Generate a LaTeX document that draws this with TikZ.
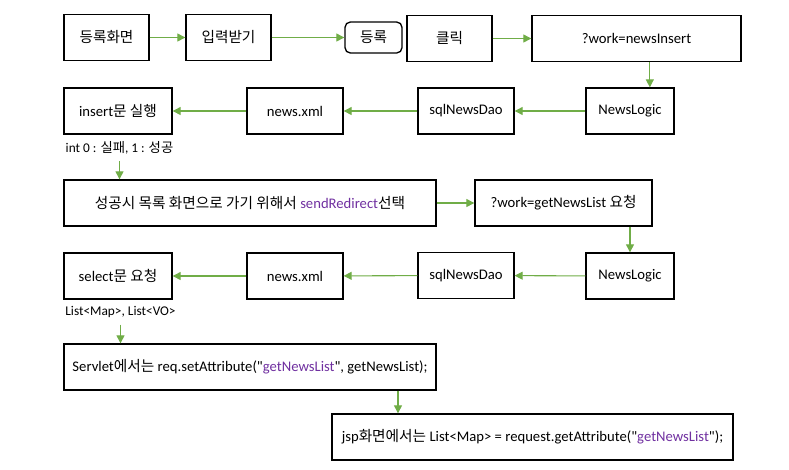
\documentclass[tikz,border=0pt]{standalone}
\usepackage{fontspec}
\setmainfont{Carlito}[Ligatures=TeXOff]
\newfontfamily\krfont{Noto Sans CJK KR}
\newcommand{\kr}[1]{{\krfont #1}}
\usetikzlibrary{arrows.meta}
\definecolor{flowgreen}{HTML}{70AD47}
\definecolor{keypurple}{HTML}{7030A0}
\tikzset{
  box/.style={draw, black, line width=1pt, minimum height=34.5pt, inner sep=0pt, font=\fontsize{11}{13}\selectfont},
  flow/.style={-{Triangle[length=6pt,width=6pt]}, flowgreen, line width=0.8pt},
  note/.style={inner sep=0pt, font=\fontsize{10}{12}\selectfont}
}
\begin{document}
\begin{tikzpicture}[x=0.75pt,y=-0.75pt]
            \useasboundingbox (0,0) rectangle (789,469);

            % Draw the first row
            \node[box, minimum width=63.75pt] (screen) at (106.5,37.5) {\kr{등록화면}};
            \node[box, minimum width=63.75pt] (input) at (228.5,37.5) {\kr{입력받기}};
            \node[box, minimum width=42.75pt, minimum height=23.25pt, rounded corners=4pt] (regbtn) at (373.5,37.5) {\kr{등록}};
            \node[box, minimum width=63.75pt] (click) at (449.5,38.5) {\kr{클릭}};
            \node[box, minimum width=156.75pt] (insreq) at (636.5,38.5) {?work=newsInsert};

            % Draw the insert chain
            \node[box, minimum width=81pt] (insert) at (118,111) {insert\kr{문 실행}};
            \node[box, minimum width=72pt] (xmlA) at (295,111) {news.xml};
            \node[box, minimum width=72pt] (daoA) at (466,111) {sqlNewsDao};
            \node[box, minimum width=66pt] (logicA) at (630,111) {NewsLogic};
            \node[note] (insres) at (119.5,148) {int 0 : \kr{실패}, 1 : \kr{성공}};

            % Draw the redirect row
            \node[box, minimum width=279pt] (redirect) at (250,203) {\kr{성공시 목록 화면으로 가기 위해서} \textcolor{keypurple}{sendRedirect}\kr{선택}};
            \node[box, minimum width=132.75pt] (listreq) at (563.5,203) {?work=getNewsList \kr{요청}};

            % Draw the select chain
            \node[box, minimum width=81pt] (select) at (118,276) {select\kr{문 요청}};
            \node[box, minimum width=72pt] (xmlB) at (295,276) {news.xml};
            \node[box, minimum width=72pt] (daoB) at (466,275.5) {sqlNewsDao};
            \node[box, minimum width=66pt] (logicB) at (630,276) {NewsLogic};
            \node[note] (selres) at (120.5,312) {List<Map>, List<VO>};

            % Draw the result rows
            \node[box, minimum width=279pt] (servlet) at (250,367) {Servlet\kr{에서는} req.setAttribute("\textcolor{keypurple}{getNewsList}", getNewsList);};
            \node[box, minimum width=300.75pt] (jsp) at (532.5,437) {jsp\kr{화면에서는} List<Map> = request.getAttribute("\textcolor{keypurple}{getNewsList}");};

            % Draw the arrows
            \draw[flow] (screen) -- (input);
            \draw[flow] (input) -- (regbtn);
            \draw[flow] (click) -- (insreq);
            \draw[flow] ([xshift=10pt]insreq.south) -- ([xshift=10pt]insreq.south |- logicA.north);
            \draw[flow] (logicA) -- (daoA);
            \draw[flow] (daoA) -- (xmlA);
            \draw[flow] (xmlA) -- (insert);
            \draw[flow] ([yshift=-5pt]insres.south) -- (redirect.north -| insres.south);
            \draw[flow] (redirect) -- (listreq);
            \draw[flow] (listreq.south -| logicB.north) -- (logicB.north);
            \draw[flow] (logicB) -- (daoB);
            \draw[flow] (daoB) -- (xmlB);
            \draw[flow] (xmlB) -- (select);
            \draw[flow] ([yshift=-5pt]selres.south) -- (servlet.north -| selres.south);
            \draw[flow] ([xshift=111pt]servlet.south) -- ([xshift=111pt]servlet.south |- jsp.north);

        \end{tikzpicture}
\end{document}
